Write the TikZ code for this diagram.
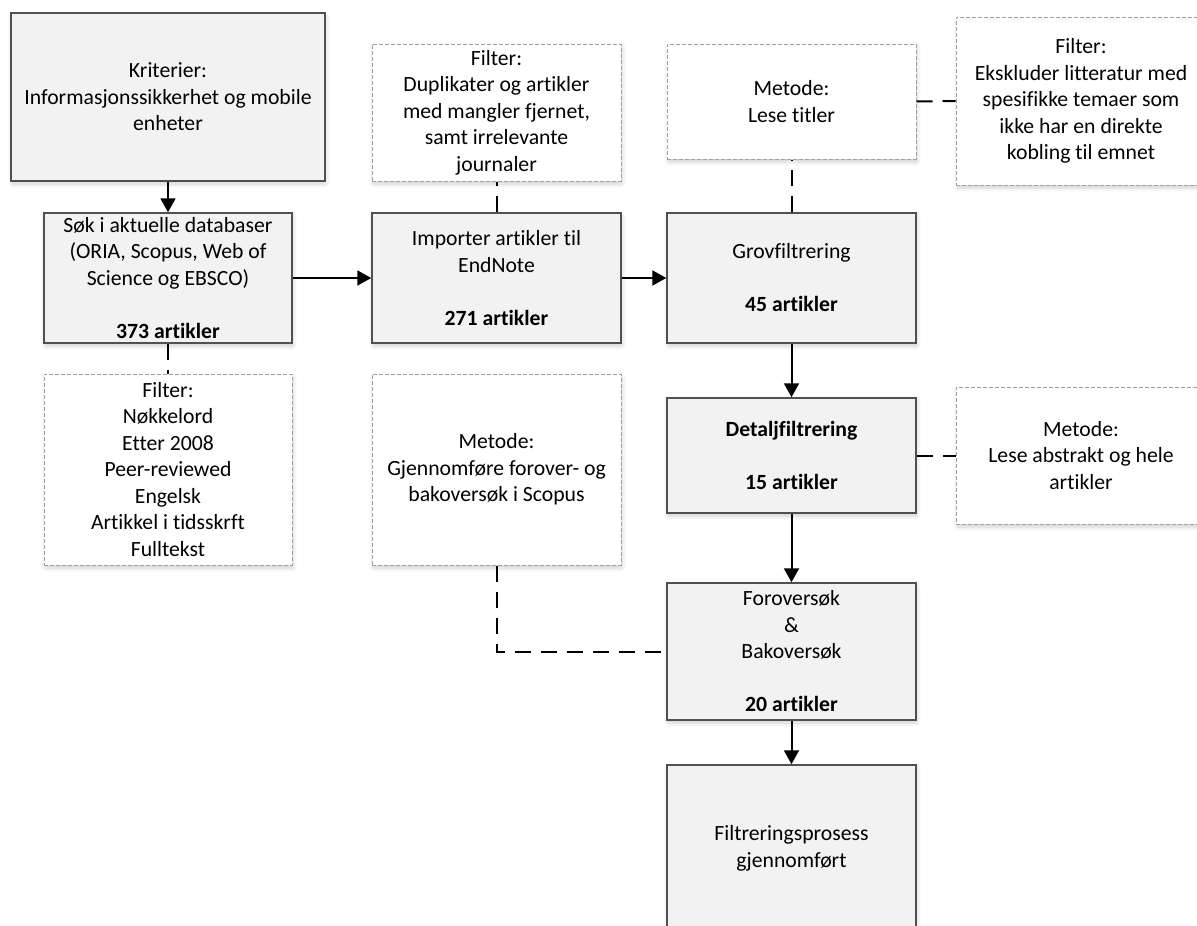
\documentclass[tikz,border=0pt]{standalone}
\usepackage{fontspec}
\setmainfont{Carlito}[Ligatures=NoCommon]
\usetikzlibrary{arrows.meta,shadows.blur}
\definecolor{boxfill}{HTML}{F2F2F2}
\definecolor{boxline}{HTML}{505050}
\definecolor{noteline}{HTML}{A0A0A0}
\begin{document}
\begin{tikzpicture}[x=1pt,y=-1pt,
  every node/.style={font=\fontsize{21.7}{26.5}\selectfont, align=center, inner sep=0pt},
  softshadow/.style={blur shadow={shadow xshift=1pt, shadow yshift=-3pt, shadow blur radius=4pt, shadow opacity=18}},
  procbox/.style={draw=boxline, line width=1.5pt, fill=boxfill, softshadow},
  notebox/.style={draw=noteline, line width=1pt, dash pattern=on 4pt off 2pt, fill=white, softshadow},
  flow/.style={line width=2pt, -{Triangle[length=14pt,width=15pt]}},
  link/.style={line width=2pt, dash pattern=on 16pt off 10pt}
]
\useasboundingbox (0,0) rectangle (1197,926);
\clip (0,0) rectangle (1197,926);

% main process boxes
\node[procbox, minimum width=314pt, minimum height=168pt] (krit) at (168,97)
  {Kriterier:\\Informasjonssikkerhet og mobile\\enheter};
\node[procbox, minimum width=248pt, minimum height=130pt] (sok) at (168,278)
  {Søk i aktuelle databaser\\(ORIA, Scopus, Web of\\Science og EBSCO)\\~\\\textbf{373 artikler}};
\node[procbox, minimum width=249pt, minimum height=130pt] (imp) at (496.5,278)
  {Importer artikler til\\EndNote\\~\\\textbf{271 artikler}};
\node[procbox, minimum width=249pt, minimum height=130pt] (grov) at (791.5,278)
  {Grovfiltrering\\~\\\textbf{45 artikler}};
\node[procbox, minimum width=249pt, minimum height=115pt] (detalj) at (791.5,455.5)
  {\textbf{Detaljfiltrering}\\~\\\textbf{15 artikler}};
\node[procbox, minimum width=249pt, minimum height=137pt] (fram) at (791.5,651.5)
  {Foroversøk\\\&\\Bakoversøk\\~\\\textbf{20 artikler}};
% last box runs past the lower edge of the page
\node[procbox, minimum width=249pt, minimum height=167pt] (ferdig) at (791.5,848.5)
  {Filtreringsprosess\\gjennomført};

% dashed note boxes
\node[notebox, minimum width=248pt, minimum height=191pt] (filtsok) at (168,469.5)
  {Filter:\\Nøkkelord\\Etter 2008\\Peer-reviewed\\Engelsk\\Artikkel i tidsskrft\\Fulltekst};
\node[notebox, minimum width=249pt, minimum height=137pt] (filtimp) at (496.5,112.5)
  {Filter:\\Duplikater og artikler\\med mangler fjernet,\\samt irrelevante\\journaler};
\node[notebox, minimum width=249pt, minimum height=191pt] (metfram) at (496.5,469.5)
  {Metode:\\Gjennomføre forover- og\\bakoversøk i Scopus};
\node[notebox, minimum width=249pt, minimum height=115pt] (metgrov) at (791.5,101.5)
  {Metode:\\Lese titler};
\node[notebox, minimum width=250pt, minimum height=168pt] (filtgrov) at (1081,101)
  {Filter:\\Ekskluder litteratur med\\spesifikke temaer som\\ikke har en direkte\\kobling til emnet};
\node[notebox, minimum width=250pt, minimum height=137pt] (metdet) at (1081,455.5)
  {Metode:\\Lese abstrakt og hele\\artikler};

% flow arrows
\draw[flow] (krit) -- (sok);
\draw[flow] (sok) -- (imp);
\draw[flow] (imp) -- (grov);
\draw[flow] (grov) -- (detalj);
\draw[flow] (detalj) -- (fram);
\draw[flow] (fram) -- (ferdig);

% dashed links to notes
\draw[link] (sok.south) -- (filtsok.north);
\draw[link] (imp.north) -- (filtimp.south);
\draw[link] (grov.north) -- (metgrov.south);
\draw[link] (metgrov.east) -- (filtgrov.west);
\draw[link] (detalj.east) -- (metdet.west);
\draw[link] (metfram.south) |- (fram.west);
\end{tikzpicture}
\end{document}
